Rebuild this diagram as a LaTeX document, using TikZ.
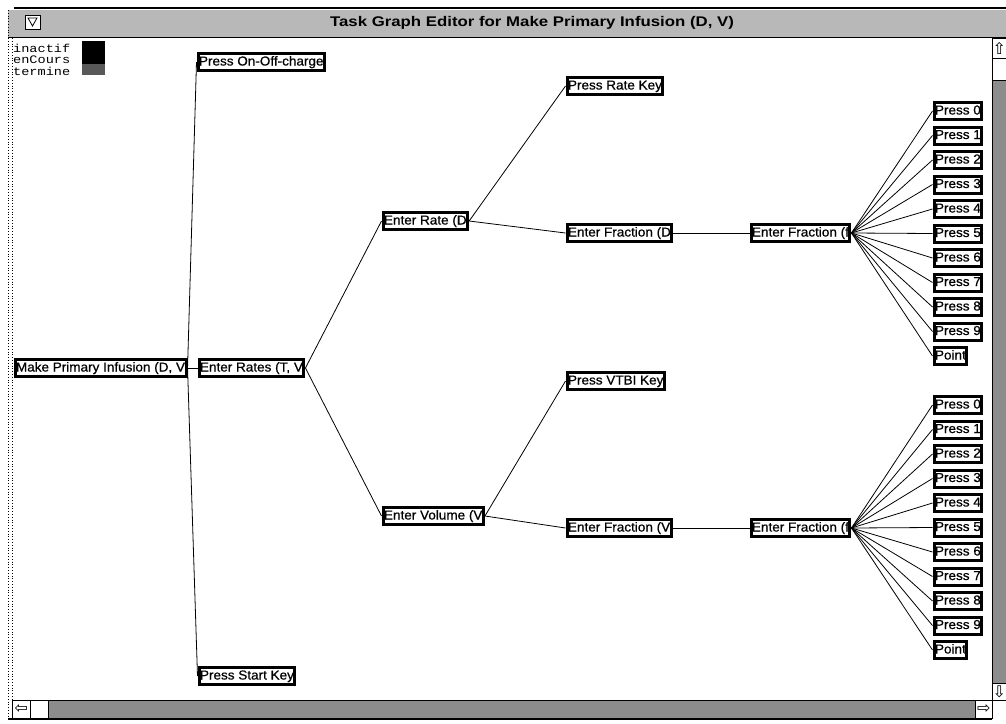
\documentclass[tikz,border=0pt]{standalone}
\usepackage{fontspec}
\usepackage{tikz}
\usetikzlibrary{patterns}
\newfontfamily\taskfont[FakeStretch=1.04,FakeBold=0.6]{Liberation Sans}
\newfontfamily\titlefont[FakeStretch=1.2]{Liberation Sans}
\newfontfamily\legendfont[FakeStretch=1.18]{Liberation Mono}
\newfontfamily\arrowfont{DejaVu Sans}

\begin{document}
\begin{tikzpicture}[x=1pt,y=-1pt,
    task/.style = {draw,line width=3pt,fill=white,inner sep=1pt,
                   minimum height=17pt,anchor=west,
                   text height=9.5pt,text depth=2.5pt,
                   font=\taskfont\fontsize{13}{13}\selectfont},
    link/.style = {draw=black,line width=0.8pt},
    legend/.style = {anchor=base west,inner sep=0pt,
                   font=\legendfont\fontsize{11.5}{11.5}\selectfont},
    bar/.style = {fill=black!45},
    arrowbox/.style = {draw,fill=white,line width=0.8pt,inner sep=0pt,
                   anchor=north west,minimum width=14pt,
                   font=\arrowfont\fontsize{16}{16}\selectfont}]

\useasboundingbox (0,0) rectangle (1006,723);

% window frame and title bar
\fill[white] (8,8) rectangle (1006,720);
\fill[black!28] (8,10) rectangle (1006,37);
\draw[line width=2.5pt] (14,8) -- (1006,8);
\draw[line width=1.2pt] (8,37.5) -- (1006,37.5);
\draw[dotted,line width=0.8pt] (8,10) -- (8,716);
\draw[dotted,line width=0.8pt] (12,38) -- (12,700);
\draw[fill=white,line width=0.8pt] (25,15) rectangle (40,29);
\draw[line width=0.8pt] (28,18) -- (37,18) -- (32.5,26) -- cycle;
\node[font=\titlefont\bfseries\fontsize{14}{14}\selectfont]
      (title) at (532,23) {Task Graph Editor for Make Primary Infusion (D, V)};

% scroll bars
\fill[bar] (992,38) rectangle (1006,700);
\fill[bar] (12,700) rectangle (992,718);
\draw[line width=0.8pt] (992,38) -- (992,718);
\draw[line width=0.8pt] (12,700) -- (1006,700);
\draw[line width=1.5pt] (8,719) -- (992,719);
\node[arrowbox,minimum height=20pt]              (up)     at (992,38)  {⇧};
\node[arrowbox,minimum height=22pt]              (vthumb) at (992,58)  {};
\node[arrowbox,minimum height=17pt]              (down)   at (992,683) {⇩};
\node[arrowbox,minimum height=18pt,minimum width=18pt] (left)   at (12,700)  {⇦};
\node[arrowbox,minimum height=18pt,minimum width=18pt] (hthumb) at (30,700)  {};
\node[arrowbox,minimum height=18pt,minimum width=17pt] (right)  at (975,700) {⇨};

% legend
\node[legend] (inactif) at (13,52) {inactif};
\node[legend] (encours) at (13,63.5) {enCours};
\node[legend] (termine) at (13,75) {termine};
\fill[black] (82,41) rectangle (105,64);
\fill[black!65] (82,64) rectangle (105,75);

% task tree
\node[task] (mpi)    at (13.5,368)  {Make Primary Infusion (D, V};
\node[task] (onoff)  at (196.5,62)  {Press On-Off-charge};
\node[task] (rates)  at (197.5,368) {Enter Rates (T, V};
\node[task] (start)  at (197.5,676) {Press Start Key};
\node[task] (rate)   at (381.5,221) {Enter Rate (D};
\node[task] (volume) at (381.5,516) {Enter Volume (V};
\node[task] (ratekey) at (565.5,86) {Press Rate Key};
\node[task] (fracD)  at (565.5,233) {Enter Fraction (D};
\node[task] (vtbi)   at (565.5,381) {Press VTBI Key};
\node[task] (fracV)  at (565.5,528) {Enter Fraction (V};
\node[task] (fracf)  at (749.5,233) {Enter Fraction (f};
\node[task] (fracg)  at (749.5,528) {Enter Fraction (f};

\path[link] (mpi.east) -- (onoff.west);
\path[link] (mpi.east) -- (rates.west);
\path[link] (mpi.east) -- (start.west);
\path[link] (rates.east) -- (rate.west);
\path[link] (rates.east) -- (volume.west);
\path[link] (rate.east) -- (ratekey.west);
\path[link] (rate.east) -- (fracD.west);
\path[link] (volume.east) -- (vtbi.west);
\path[link] (volume.east) -- (fracV.west);
\path[link] (fracD.east) -- (fracf.west);
\path[link] (fracV.east) -- (fracg.west);

% digit keys
\foreach \k in {0,...,9} {
  \node[task] (ptop\k) at (932.5,{111+24.5*\k}) {Press \k};
  \path[link] (fracf.east) -- (ptop\k.west);
  \node[task] (pbot\k) at (932.5,{405+24.5*\k}) {Press \k};
  \path[link] (fracg.east) -- (pbot\k.west);
}
\node[task] (pointtop) at (932.5,356) {Point};
\node[task] (pointbot) at (932.5,650) {Point};
\path[link] (fracf.east) -- (pointtop.west);
\path[link] (fracg.east) -- (pointbot.west);

\end{tikzpicture}
\end{document}
